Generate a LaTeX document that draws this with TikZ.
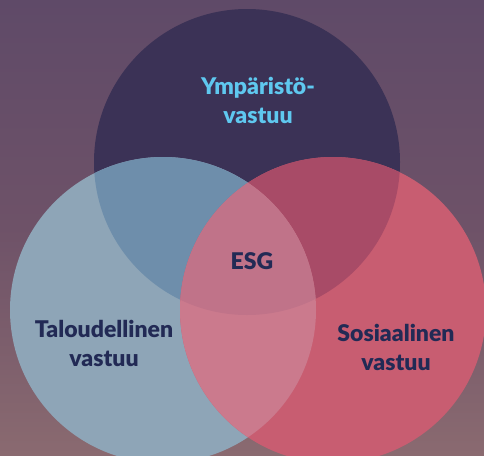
\documentclass[tikz,border=0pt]{standalone}
\usepackage{fontspec}
\setmainfont{Lato}[BoldFont={Lato Black}]
\definecolor{bgtop}{HTML}{5F4A68}
\definecolor{bgmid}{HTML}{6E5268}
\definecolor{bgbot}{HTML}{8A6A70}
\definecolor{cT}{HTML}{3B3256}
\definecolor{cL}{HTML}{8EA5B7}
\definecolor{cR}{HTML}{C85D71}
\definecolor{cTL}{HTML}{6E8EAB}
\definecolor{cTR}{HTML}{A84B67}
\definecolor{cLR}{HTML}{CB7A8D}
\definecolor{cC}{HTML}{C07389}
\definecolor{txtdark}{HTML}{222A55}
\definecolor{txtlight}{HTML}{5FC8EF}
\tikzset{
  label/.style={font=\bfseries\fontsize{23}{29}\selectfont, align=center, text=txtdark, inner sep=0pt},
}
\begin{document}
\begin{tikzpicture}[x=1pt,y=-1pt]
\useasboundingbox (0,0) rectangle (484,455);
\shade[top color=bgtop, bottom color=bgbot, middle color=bgmid] (0,0) rectangle (484,455);
\def\ctop{(247,162) circle (153)}
\def\cleft{(163,310) circle (153)}
\def\cright{(333,310) circle (153)}
\fill[cT] \ctop;
\fill[cL] \cleft;
\fill[cR] \cright;
\begin{scope}
  \clip \ctop; \fill[cTL] \cleft;
\end{scope}
\begin{scope}
  \clip \ctop; \fill[cTR] \cright;
\end{scope}
\begin{scope}
  \clip \cleft; \fill[cLR] \cright;
\end{scope}
\begin{scope}
  \clip \ctop; \clip \cleft; \fill[cC] \cright;
\end{scope}
\node[label, text=txtlight] (env) at (258,100) {Ympäristö-\\vastuu};
\node[label] (esg) at (252,261) {ESG};
\node[label] (eco) at (104,343) {Taloudellinen\\vastuu};
\node[label] (soc) at (396,347) {Sosiaalinen\\vastuu};
\end{tikzpicture}
\end{document}
